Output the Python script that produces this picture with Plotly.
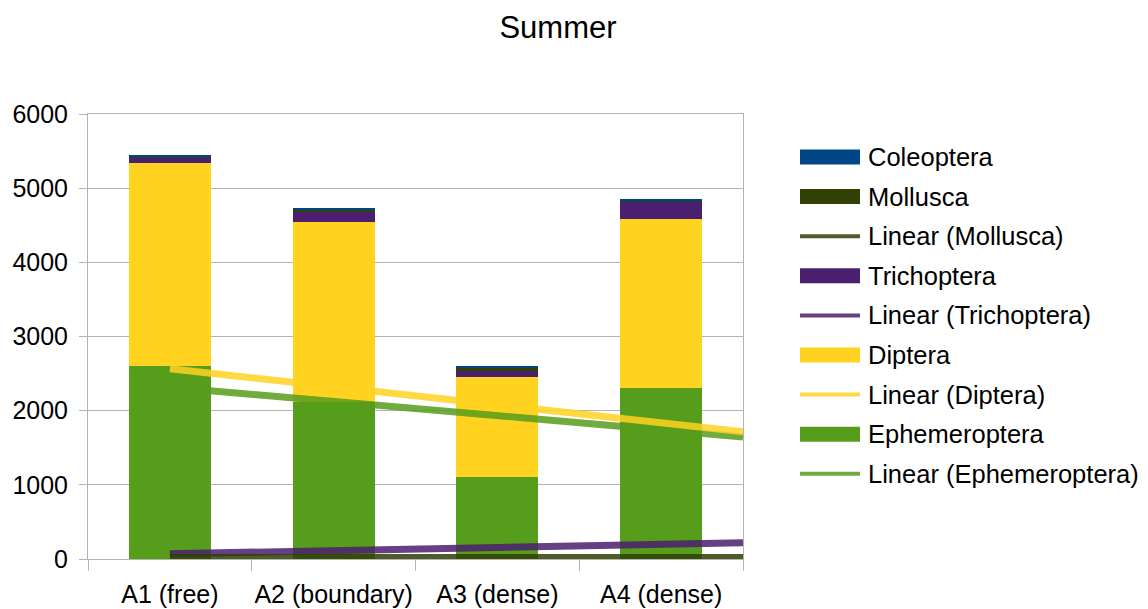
import numpy as np
import plotly.graph_objects as go

# Sampling sites and counts per taxon (summer)
sites = ["A1 (free)", "A2 (boundary)", "A3 (dense)", "A4 (dense)"]
ephemeroptera = [2600, 2115, 1100, 2300]
diptera = [2735, 2425, 1360, 2280]
trichoptera = [77, 140, 81, 239]
mollusca = [15, 20, 36, 8]
coleoptera = [22, 36, 31, 18]

y_ticks = [0, 1000, 2000, 3000, 4000, 5000, 6000]

COL = {
    "Coleoptera": "#004586",
    "Mollusca": "#314004",
    "Trichoptera": "#4b1f6f",
    "Diptera": "#ffd320",
    "Ephemeroptera": "#579d1c",
}

W, H = 1148, 609
PL, PR, PT, PB = 88, 743, 114, 559  # plot area in pixels

x = np.arange(len(sites))
fig = go.Figure()

# stacked columns, bottom to top
stack = [
    ("Ephemeroptera", ephemeroptera),
    ("Diptera", diptera),
    ("Trichoptera", trichoptera),
    ("Mollusca", mollusca),
    ("Coleoptera", coleoptera),
]
for name, vals in stack:
    fig.add_trace(go.Bar(x=x, y=vals, name=name, marker_color=COL[name],
                         marker_line_width=0, showlegend=False))

# least-squares trend lines, running half a category past the last column
x_fit = np.array([0.0, len(sites) - 0.5])
for name, vals in [("Ephemeroptera", ephemeroptera), ("Diptera", diptera),
                   ("Trichoptera", trichoptera), ("Mollusca", mollusca)]:
    slope, icpt = np.polyfit(x, vals, 1)
    fig.add_trace(go.Scatter(x=x_fit, y=icpt + slope * x_fit, mode="lines",
                             line=dict(color=COL[name], width=7), opacity=0.85,
                             showlegend=False, name="Linear (%s)" % name))


def px_x(px):
    return (px - PL) / (PR - PL)


def px_y(py):
    return (PB - py) / (PB - PT)


# legend panel
legend_items = [
    ("Coleoptera", "box"), ("Mollusca", "box"), ("Mollusca", "line"),
    ("Trichoptera", "box"), ("Trichoptera", "line"), ("Diptera", "box"),
    ("Diptera", "line"), ("Ephemeroptera", "box"), ("Ephemeroptera", "line"),
]
shapes = []
annotations = []
y0 = 157
for i, (name, kind) in enumerate(legend_items):
    yc = y0 + i * 39.6
    if kind == "box":
        shapes.append(dict(type="rect", xref="paper", yref="paper",
                           x0=px_x(800), x1=px_x(860),
                           y0=px_y(yc + 7.5), y1=px_y(yc - 7.5),
                           fillcolor=COL[name], line=dict(width=0)))
        label = name
    else:
        shapes.append(dict(type="line", xref="paper", yref="paper",
                           x0=px_x(800), x1=px_x(860), y0=px_y(yc), y1=px_y(yc),
                           line=dict(color=COL[name], width=4), opacity=0.85))
        label = "Linear (%s)" % name
    annotations.append(dict(xref="paper", yref="paper", x=px_x(866), y=px_y(yc),
                            text=label, showarrow=False, xanchor="left", yanchor="middle",
                            font=dict(size=25.5, color="#000000")))

fig.update_layout(
    width=W, height=H,
    margin=dict(l=PL, r=W - PR, t=PT, b=H - PB),
    paper_bgcolor="white", plot_bgcolor="white",
    font=dict(family="Liberation Sans, Arial, sans-serif", size=25, color="#000000"),
    title=dict(text="Summer", x=558 / W, xanchor="center", y=1 - 27 / H, yanchor="middle",
               font=dict(size=31)),
    barmode="stack", bargap=0.5,
    showlegend=False,
    shapes=shapes, annotations=annotations,
)
fig.update_xaxes(
    range=[-0.5, len(sites) - 0.5], tickvals=list(x), ticktext=sites, ticks="",
    ticklabelstandoff=13, showgrid=False, zeroline=False, automargin=False,
    showline=True, mirror=True, linecolor="#b3b3b3", linewidth=1,
    tickfont=dict(size=25),
    minor=dict(tickvals=list(np.arange(len(sites) + 1) - 0.5), ticks="outside",
               ticklen=11, tickcolor="#b3b3b3", showgrid=False),
)
fig.update_yaxes(
    range=[0, 6000], tickvals=y_ticks, ticks="outside", ticklen=8, tickcolor="#b3b3b3",
    showgrid=True, gridcolor="#b3b3b3", gridwidth=1, zeroline=False, automargin=False,
    showline=True, mirror=True, linecolor="#b3b3b3", linewidth=1,
    ticklabelstandoff=6, tickfont=dict(size=25),
)

fig.write_html("out.html")
